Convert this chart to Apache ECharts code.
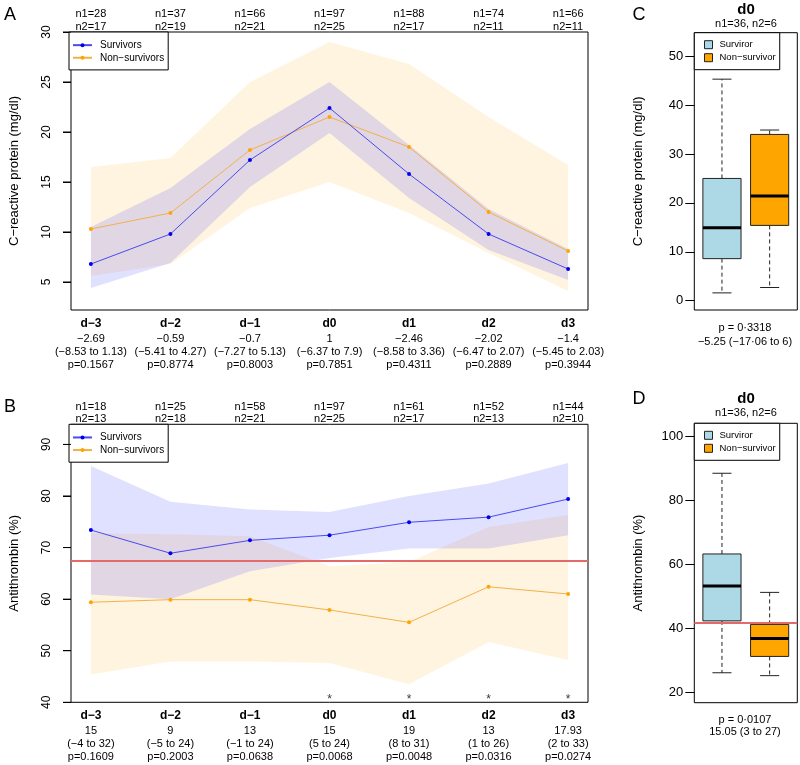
<!DOCTYPE html>
<html>
<head>
<meta charset="utf-8">
<script src="https://cdn.jsdelivr.net/npm/echarts@6/dist/echarts.min.js"></script>
<style>
  html, body { margin: 0; padding: 0; background: #fff; }
  #chart { width: 800px; height: 765px; }
</style>
</head>
<body>
<div id="chart"></div>
<script>
// 天数 (day relative to d0)
var days = ['d−3', 'd−2', 'd−1', 'd0', 'd1', 'd2', 'd3'];
var dayPos = [-3, -2, -1, 0, 1, 2, 3];

// A: C-reactive protein
var crpN1 = [28, 37, 66, 97, 88, 74, 66];
var crpN2 = [17, 19, 21, 25, 17, 11, 11];
var crpSurv = [6.8, 9.8, 17.2, 22.4, 15.8, 9.8, 6.3];
var crpSurvLo = [4.4, 6.9, 14.5, 19.9, 13.4, 8.2, 5.2];
var crpSurvHi = [10.5, 14.4, 20.3, 25.0, 18.7, 12.3, 8.3];
var crpNon = [10.3, 11.9, 18.2, 21.5, 18.5, 12.0, 8.1];
var crpNonLo = [5.6, 6.8, 12.4, 15.0, 11.9, 7.9, 4.1];
var crpNonHi = [16.5, 17.4, 25.0, 29.0, 26.8, 21.5, 16.7];
var crpDiff = ['−2.69', '−0.59', '−0.7', '1', '−2.46', '−2.02', '−1.4'];
var crpCI = ['(−8.53 to 1.13)', '(−5.41 to 4.27)', '(−7.27 to 5.13)', '(−6.37 to 7.9)',
             '(−8.58 to 3.36)', '(−6.47 to 2.07)', '(−5.45 to 2.03)'];
var crpP = ['0.1567', '0.8774', '0.8003', '0.7851', '0.4311', '0.2889', '0.3944'];
var crpTicks = [5, 10, 15, 20, 25, 30];

// B: antithrombin
var atN1 = [18, 25, 58, 97, 61, 52, 44];
var atN2 = [13, 18, 21, 25, 17, 13, 10];
var atSurv = [73.4, 68.9, 71.4, 72.4, 74.9, 75.9, 79.4];
var atSurvLo = [60.9, 60.0, 65.4, 68.0, 69.8, 69.8, 72.4];
var atSurvHi = [85.8, 78.9, 77.4, 76.9, 80.0, 82.4, 86.4];
var atNon = [59.4, 59.9, 59.9, 57.9, 55.5, 62.4, 61.0];
var atNonLo = [45.4, 47.9, 47.9, 47.6, 43.5, 51.7, 48.2];
var atNonHi = [72.8, 72.6, 72.2, 66.4, 67.2, 74.0, 76.3];
var atDiff = ['15', '9', '13', '15', '19', '13', '17.93'];
var atCI = ['(−4 to 32)', '(−5 to 24)', '(−1 to 24)', '(5 to 24)', '(8 to 31)', '(1 to 26)', '(2 to 33)'];
var atP = ['0.1609', '0.2003', '0.0638', '0.0068', '0.0048', '0.0316', '0.0274'];
var atTicks = [40, 50, 60, 70, 80, 90];
var atCutoff = 67.4;

// C / D: box plots at d0, [min, q1, median, q3, max]
var crpBoxSurv = [1.6, 8.6, 14.9, 25.0, 45.3];
var crpBoxNon = [2.7, 15.4, 21.4, 34.0, 34.9];
var atBoxSurv = [26.1, 42.3, 53.2, 63.2, 88.4];
var atBoxNon = [25.2, 31.2, 36.8, 41.2, 51.2];
var atCutoffD = 41.8;
var crpBoxTicks = [0, 10, 20, 30, 40, 50];
var atBoxTicks = [20, 40, 60, 80, 100];

var FONT = 'Liberation Sans, Arial, Helvetica, sans-serif';
var BLUE = '#0000ee';
var ORANGE = '#ffa500';
var X_MIN = -3.25, X_MAX = 3.25;

function pairs(vals) {
    return vals.map(function (v, i) { return [dayPos[i], v]; });
}
function idx(v) { return Math.round(v) + 3; }

function bottomFormatter(diff, ci, p) {
    return function (v) {
        var i = idx(v);
        return '{b|' + days[i] + '}\n{n|' + diff[i] + '}\n{n|' + ci[i] + '}\n{n|p=' + p[i] + '}';
    };
}
function topFormatter(n1, n2) {
    return function (v) {
        var i = idx(v);
        return 'n1=' + n1[i] + '\nn2=' + n2[i];
    };
}

function dayAxes(grid) {
    return [{
        type: 'value', gridIndex: grid, position: 'bottom', min: X_MIN, max: X_MAX,
        axisLine: { show: false, onZero: false }, axisTick: { show: false }, splitLine: { show: false },
        axisLabel: {
            customValues: dayPos, margin: 5, color: '#000', fontFamily: FONT,
            formatter: grid === 0 ? bottomFormatter(crpDiff, crpCI, crpP) : bottomFormatter(atDiff, atCI, atP),
            rich: {
                b: { fontSize: 12, fontWeight: 'bold', lineHeight: 17, color: '#000', fontFamily: FONT },
                n: { fontSize: 11, lineHeight: 13, color: '#000', fontFamily: FONT }
            }
        }
    }, {
        type: 'value', gridIndex: grid, position: 'top', min: X_MIN, max: X_MAX,
        axisLine: { show: false, onZero: false }, axisTick: { show: false }, splitLine: { show: false },
        axisLabel: {
            customValues: dayPos, margin: -1, color: '#000', fontFamily: FONT,
            fontSize: 11, lineHeight: 12.4,
            formatter: grid === 0 ? topFormatter(crpN1, crpN2) : topFormatter(atN1, atN2)
        }
    }];
}

// 左轴: 标签旋转 90 度
function yAxisLine(grid, min, max, ticks, name) {
    return {
        type: 'value', gridIndex: grid, position: 'left', min: min, max: max,
        name: name, nameLocation: 'middle', nameGap: 50,
        nameTextStyle: { fontSize: 13, color: '#000', fontFamily: FONT },
        axisLine: { show: false, onZero: false },
        splitLine: { show: false },
        axisTick: { show: true, inside: false, customValues: ticks, length: 8, lineStyle: { color: '#000' } },
        axisLabel: { customValues: ticks, rotate: 90, margin: 18, fontSize: 12, color: '#000', fontFamily: FONT }
    };
}
function yAxisBox(grid, min, max, ticks, name) {
    return {
        type: 'value', gridIndex: grid, min: min, max: max,
        name: name, nameLocation: 'middle', nameGap: 49,
        nameTextStyle: { fontSize: 13, color: '#000', fontFamily: FONT },
        axisLine: { show: false, onZero: false }, splitLine: { show: false },
        axisTick: { show: true, customValues: ticks, length: 9, lineStyle: { color: '#000' } },
        axisLabel: { customValues: ticks, margin: 11, fontSize: 13, color: '#000', fontFamily: FONT }
    };
}
function boxXAxis(grid) {
    return {
        type: 'value', gridIndex: grid, min: 0.42, max: 2.58, show: false
    };
}

// 刻度线: y 由坐标轴换算, x 取网格左边 (tick marks on the grid's left edge)
function tickMarks(xi, yi, ticks) {
    return {
        type: 'custom', xAxisIndex: xi, yAxisIndex: yi, silent: true, clip: false, z: 10,
        data: ticks.map(function (t) { return [0, t]; }),
        encode: { x: 0, y: 1 },
        renderItem: function (params, api) {
            var left = params.coordSys.x;
            var y = api.coord([api.value(0), api.value(1)])[1];
            return { type: 'line', shape: { x1: left - 8, y1: y, x2: left, y2: y },
                     style: { stroke: '#000', lineWidth: 1 } };
        }
    };
}

// 置信带 (band polygon between lo and hi)
function band(xi, yi, lo, hi, color) {
    var rows = dayPos.map(function (x, i) { return [x, lo[i], hi[i]]; });
    return {
        type: 'custom', xAxisIndex: xi, yAxisIndex: yi, silent: true, z: 1,
        data: rows, encode: { x: 0, y: [1, 2] },
        renderItem: function (params, api) {
            if (params.dataIndex !== 0) return;
            var upper = rows.map(function (r) { return api.coord([r[0], r[2]]); });
            var lower = rows.map(function (r) { return api.coord([r[0], r[1]]); }).reverse();
            return { type: 'polygon', shape: { points: upper.concat(lower) }, style: { fill: color } };
        }
    };
}
function meanLine(xi, yi, name, vals, color, lineColor) {
    return {
        type: 'line', name: name, xAxisIndex: xi, yAxisIndex: yi, data: pairs(vals),
        symbol: 'circle', symbolSize: 4, z: 3,
        itemStyle: { color: color },
        lineStyle: { color: lineColor, width: 1 }
    };
}

function renderBox(params, api) {
    var x = api.value(0);
    var w = api.size([0.8, 0])[0];
    var half = w / 2, cap = w / 4;
    var pMin = api.coord([x, api.value(1)]);
    var pQ1 = api.coord([x, api.value(2)]);
    var pMed = api.coord([x, api.value(3)]);
    var pQ3 = api.coord([x, api.value(4)]);
    var pMax = api.coord([x, api.value(5)]);
    var cx = pMin[0];
    var ink = '#222';
    var dash = { stroke: ink, lineWidth: 1, lineDash: [4, 3] };
    return {
        type: 'group',
        children: [
            { type: 'line', shape: { x1: cx, y1: pQ3[1], x2: cx, y2: pMax[1] }, style: dash },
            { type: 'line', shape: { x1: cx, y1: pQ1[1], x2: cx, y2: pMin[1] }, style: dash },
            { type: 'line', shape: { x1: cx - cap, y1: pMax[1], x2: cx + cap, y2: pMax[1] }, style: { stroke: ink, lineWidth: 1 } },
            { type: 'line', shape: { x1: cx - cap, y1: pMin[1], x2: cx + cap, y2: pMin[1] }, style: { stroke: ink, lineWidth: 1 } },
            { type: 'rect', shape: { x: cx - half, y: pQ3[1], width: w, height: pQ1[1] - pQ3[1] },
              style: { fill: api.visual('color'), stroke: ink, lineWidth: 1 } },
            { type: 'line', shape: { x1: cx - half, y1: pMed[1], x2: cx + half, y2: pMed[1] }, style: { stroke: '#000', lineWidth: 3 } }
        ]
    };
}
function boxSeries(xi, yi, name, pos, vals, color) {
    return {
        type: 'custom', name: name, xAxisIndex: xi, yAxisIndex: yi,
        renderItem: renderBox, itemStyle: { color: color },
        encode: { x: 0, y: [1, 2, 3, 4, 5] },
        data: [[pos].concat(vals)], z: 2
    };
}
function cutLine(value) {
    return {
        silent: true, symbol: 'none', label: { show: false },
        lineStyle: { color: '#e46a6a', width: 2, type: 'solid' },
        data: [{ yAxis: value }]
    };
}

var myChart = echarts.init(document.getElementById('chart'));

var gridA = { left: 69, top: 32, width: 519, height: 278 };
var gridB = { left: 69, top: 424.3, width: 519, height: 278 };
var gridC = { left: 694.3, top: 32.7, width: 103, height: 277.3 };
var gridD = { left: 694.3, top: 423.3, width: 103, height: 279.4 };
[gridA, gridB, gridC, gridD].forEach(function (g) {
    g.show = true; g.borderColor = '#000'; g.borderWidth = 1; g.backgroundColor = 'transparent';
});

var stars = [];
atP.forEach(function (p, i) { if (+p < 0.05) stars.push([dayPos[i], 40.6]); });

var series = [
    band(0, 0, crpNonLo, crpNonHi, 'rgba(255,165,0,0.12)'),
    band(0, 0, crpSurvLo, crpSurvHi, 'rgba(0,0,255,0.12)'),
    meanLine(0, 0, 'Non−survivors', crpNon, ORANGE, '#f2b04a'),
    meanLine(0, 0, 'Survivors', crpSurv, BLUE, '#4a4af0'),
    tickMarks(0, 0, crpTicks),
    band(2, 1, atNonLo, atNonHi, 'rgba(255,165,0,0.12)'),
    band(2, 1, atSurvLo, atSurvHi, 'rgba(0,0,255,0.12)'),
    meanLine(2, 1, 'Non−survivors', atNon, ORANGE, '#f2b04a'),
    meanLine(2, 1, 'Survivors', atSurv, BLUE, '#4a4af0'),
    tickMarks(2, 1, atTicks),
    {
        type: 'scatter', xAxisIndex: 2, yAxisIndex: 1, data: stars, symbolSize: 1, silent: true,
        itemStyle: { color: 'transparent' },
        label: { show: true, position: 'inside', formatter: '*', fontSize: 12, color: '#000', fontFamily: FONT }
    },
    { type: 'line', xAxisIndex: 2, yAxisIndex: 1, data: [], markLine: cutLine(atCutoff), z: 4 },
    boxSeries(4, 2, 'Surviror', 1, crpBoxSurv, '#add8e6'),
    boxSeries(4, 2, 'Non−survivor', 2, crpBoxNon, ORANGE),
    boxSeries(5, 3, 'Surviror', 1, atBoxSurv, '#add8e6'),
    boxSeries(5, 3, 'Non−survivor', 2, atBoxNon, ORANGE),
    { type: 'line', xAxisIndex: 5, yAxisIndex: 3, data: [], markLine: cutLine(atCutoffD), z: 4 }
];

function lineLegend(top) {
    return {
        left: 69, top: top, orient: 'vertical', data: ['Survivors', 'Non−survivors'],
        borderColor: '#000', borderWidth: 1, backgroundColor: '#fff',
        padding: [7, 4, 6, 3], itemGap: 0.3, itemWidth: 19, itemHeight: 5,
        selectedMode: false,
        textStyle: { fontSize: 10, lineHeight: 12.3, color: '#000', fontFamily: FONT, padding: [0, 0, 0, 3] }
    };
}
function boxLegend(top) {
    return {
        left: 694.3, top: top, orient: 'vertical', data: ['Surviror', 'Non−survivor'],
        borderColor: '#000', borderWidth: 1, backgroundColor: '#fff',
        padding: [6, 4, 6, 9.7], itemGap: 1, itemWidth: 8, itemHeight: 8, icon: 'rect',
        selectedMode: false,
        itemStyle: { borderColor: '#222', borderWidth: 1 },
        textStyle: { fontSize: 9.5, lineHeight: 12, color: '#000', fontFamily: FONT, padding: [0, 0, 0, 2] }
    };
}

function txt(x, y, text, size, weight) {
    return {
        type: 'text', x: x, y: y, silent: true,
        style: { text: text, fontSize: size, fontWeight: weight || 'normal', fill: '#000',
                 fontFamily: FONT, align: 'center', verticalAlign: 'middle' }
    };
}

var option = {
    animation: false,
    grid: [gridA, gridB, gridC, gridD],
    xAxis: [].concat(dayAxes(0), dayAxes(1), [boxXAxis(2), boxXAxis(3)]),
    yAxis: [
        yAxisLine(0, 2.2, 30, crpTicks, 'C−reactive protein (mg/dl)'),
        yAxisLine(1, 40, 93.9, atTicks, 'Antithrombin (%)'),
        yAxisBox(2, -1.9, 54.8, crpBoxTicks, 'C−reactive protein (mg/dl)'),
        yAxisBox(3, 16.75, 104, atBoxTicks, 'Antithrombin (%)')
    ],
    legend: [lineLegend(32), lineLegend(424.3), boxLegend(32.7), boxLegend(423.3)],
    series: series,
    graphic: [
        txt(10, 15, 'A', 18), txt(10, 407, 'B', 18),
        txt(639, 15, 'C', 18), txt(639, 399, 'D', 18),
        txt(746, 10, 'd0', 15, 'bold'), txt(746, 23.5, 'n1=36, n2=6', 11),
        txt(746, 399, 'd0', 15, 'bold'), txt(746, 412.5, 'n1=36, n2=6', 11),
        txt(745, 328, 'p = 0·3318', 11), txt(745, 341.7, '−5.25 (−17·06 to 6)', 11),
        txt(745, 720, 'p = 0·0107', 11), txt(745, 732.3, '15.05 (3 to 27)', 11)
    ]
};
myChart.setOption(option);
window.onresize = function () {
    myChart.resize();
};
</script>
</body>
</html>
